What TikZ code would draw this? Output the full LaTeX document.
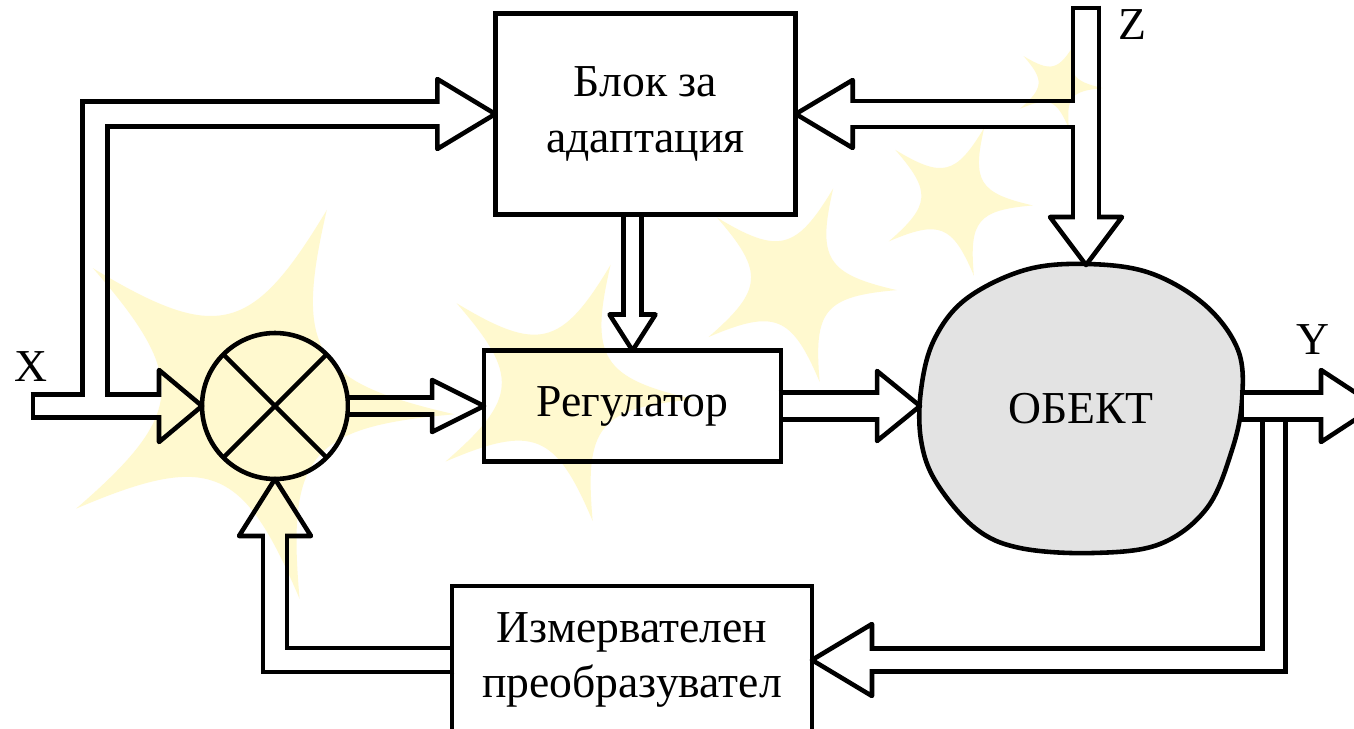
\documentclass[tikz,border=0pt]{standalone}
\usepackage{fontspec}
\setmainfont{Liberation Serif}
\usetikzlibrary{positioning,calc}
\definecolor{ink}{HTML}{000000}
\definecolor{blobgray}{HTML}{E3E3E3}
\definecolor{lemon}{HTML}{FFF9CF}
\newcommand{\bigtxt}{\fontsize{26pt}{31.5pt}\selectfont}
\tikzset{
  box/.style={draw=ink, line width=2.6pt, outer sep=0pt, inner sep=0pt,
    align=center, text=ink, font=\bigtxt},
  wire/.style={draw=ink, line width=2.6pt},
  arrowhd/.style={draw=ink, fill=white, line width=2.6pt, line join=round},
  % hollow block arrows: black casing first, white bore on top
  pipe/.code={\pgfmathsetlengthmacro\tubew{(#1+4.6)*0.02cm}%
    \tikzset{draw=ink, line width=\tubew, shorten <=-1.3pt}},
  bore/.code={\pgfmathsetlengthmacro\tubew{(#1-4.6)*0.02cm}%
    \tikzset{draw=white, line width=\tubew, shorten <=1.3pt, shorten >=-2pt}},
  blob/.style={draw=ink, fill=blobgray, line width=2.6pt},
  lab/.style={font=\bigtxt, text=ink},
  starfill/.style={fill=lemon},
}
% open triangle head: base name, tip, direction, length, half width
\newcommand{\blockhead}[5]{%
  \filldraw[arrowhd, shift={#2}, rotate=#3] (0,0) -- (-#4,-#5) -- (-#4,#5) -- cycle;
  \path[shift={#2}, rotate=#3] (-#4,0) coordinate (#1);}
\newcommand{\tubes}[1]{%
  \draw[#1=23] (xin) -- (hx);
  \draw[#1=25] (xfork) |- (hxa);
  \draw[#1=17] (cmp.east) -- (hcr);
  \draw[#1=18] (adapt.south -| reg.north) -- (hrr);
  \draw[#1=27] (reg.east) -- (hro);
  \draw[#1=26] (zin) -- (hz);
  \draw[#1=26] (zin |- adapt.east) -- (hza);
  \draw[#1=27] (reg.east -| obj.east) -- (hy);
  \draw[#1=23] (yfork) |- (hfm);
  \draw[#1=24] (meas.west) -| (hmc);}
\newcommand{\softstar}[2]{%
  \fill[starfill, shift={#1}] (4:#2)
    \foreach \k in {1,...,5} { .. controls (4+72*\k-52:0.32*#2) and (4+72*\k-20:0.32*#2) .. (4+72*\k:#2) } -- cycle;}

\begin{document}
\begin{tikzpicture}[x=0.02cm, y=-0.02cm]
  \useasboundingbox (0,0) rectangle (1354,729);
  \clip (0,0) rectangle (1354,729);
  \fill[white] (0,0) rectangle (1354,729);

  \draw[blob] plot[smooth cycle, tension=0.6] coordinates {(1087,264) (1150,273)
    (1205,305) (1238,350) (1242,400) (1232,450) (1207,508) (1160,544) (1093,553)
    (1020,548) (975,528) (936,482) (921,440) (921,390) (934,340) (966,299) (1025,270)};

  \node[box, minimum width=6.01cm, minimum height=4.03cm] (adapt) at (645.5,114) {Блок за\\адаптация};
  \node[box, minimum width=5.94cm, minimum height=2.22cm] (reg) at (632.5,406) {Регулатор};
  \node[box, minimum width=7.2cm, minimum height=2.96cm] (meas) at (632,660) {Измервателен\\преобразувател};
  \node[circle, draw=ink, line width=2.6pt, minimum size=2.92cm, inner sep=0pt, outer sep=0pt] (cmp) at (275,406) {};
  \draw[wire] (cmp.north west) -- (cmp.south east) (cmp.north east) -- (cmp.south west);
  \node[lab, minimum width=6.44cm, minimum height=5.76cm, inner sep=0pt, outer sep=0pt] (obj) at (1081,409) {ОБЕКТ};

  \coordinate (xin) at (33,406);
  \coordinate (xfork) at (95,406);
  \coordinate (zin) at (1086,8);
  \coordinate (yfork) at (1274,419.5);
  \coordinate (yend) at (1376,406);

  \blockhead{hx}{(cmp.west)}{0}{43}{36}
  \blockhead{hxa}{(adapt.west)}{0}{58}{35}
  \blockhead{hcr}{(reg.west)}{0}{52}{26}
  \blockhead{hrr}{(reg.north)}{-90}{36}{23}
  \blockhead{hro}{(reg.east -| obj.west)}{0}{43}{35}
  \blockhead{hz}{(zin |- obj.north)}{-90}{48}{36}
  \blockhead{hza}{(adapt.east)}{180}{57}{34}
  \blockhead{hy}{(yend)}{0}{55}{36}
  \blockhead{hfm}{(meas.east)}{180}{60}{36}
  \blockhead{hmc}{(cmp.south)}{90}{57}{36}
  \tubes{pipe}
  \tubes{bore}

  \node[lab] (xlab) at (31,367) {X};
  \node[lab] (zlab) at (1132,25) {Z};
  \node[lab] (ylab) at (1313,340) {Y};

  \begin{scope}[blend mode=multiply]
    \softstar{(250,400)}{205}
    \softstar{(560,390)}{135}
    \softstar{(795,283)}{102}
    \softstar{(955,200)}{78}
    \softstar{(1058,85)}{45}
  \end{scope}
\end{tikzpicture}
\end{document}
